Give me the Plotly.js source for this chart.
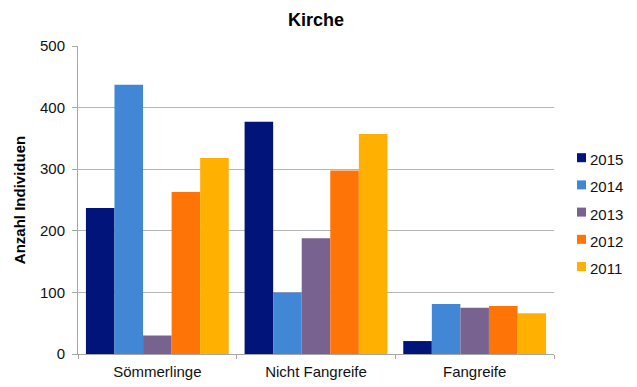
<!DOCTYPE html>
<html>
<head>
<meta charset="utf-8">
<script src="https://cdn.plot.ly/plotly-3.0.1.min.js"></script>
<style>
  html, body { margin: 0; padding: 0; background: #fff; }
  #chart { width: 637px; height: 387px; }
</style>
</head>
<body>
<div id="chart"></div>
<script>
// Kirche: Anzahl Individuen je Kategorie und Jahr
const categories = ['Sömmerlinge', 'Nicht Fangreife', 'Fangreife'];
const years = ['2015', '2014', '2013', '2012', '2011'];
const s2015 = [237, 377, 21];
const s2014 = [437, 100, 81];
const s2013 = [30, 188, 75];
const s2012 = [263, 298, 78];
const s2011 = [318, 357, 66];
const seriesValues = [s2015, s2014, s2013, s2012, s2011];
const colors = ['#001479', '#4286d6', '#786290', '#ff7406', '#ffb000'];

const W = 637, H = 387;
const M = { l: 78, r: 83, t: 46, b: 33 };
const plotW = W - M.l - M.r, plotH = H - M.t - M.b;
const px = x => (x - M.l) / plotW;        // page pixel -> paper x
const py = y => (H - M.b - y) / plotH;    // page pixel -> paper y

const FONT = 'Liberation Sans, Arial, Helvetica, sans-serif';

const traces = years.map((yr, i) => ({
  type: 'bar',
  name: yr,
  x: categories,
  y: seriesValues[i],
  marker: { color: colors[i], line: { width: 0 } },
  hoverinfo: 'x+y+name'
}));

// Legend drawn as small squares with labels on the right side
const shapes = [];
const annotations = [];
years.forEach((yr, i) => {
  const cy = 157.7 + i * 27.2;
  shapes.push({
    type: 'rect', xref: 'paper', yref: 'paper',
    x0: px(577), x1: px(586), y0: py(cy + 4.5), y1: py(cy - 4.5),
    fillcolor: colors[i], line: { width: 0 }
  });
  annotations.push({
    xref: 'paper', yref: 'paper', x: px(588), y: py(cy + 2),
    xanchor: 'left', yanchor: 'middle', showarrow: false,
    text: yr, font: { family: FONT, size: 15, color: '#111' }
  });
});

const layout = {
  width: W, height: H,
  margin: M,
  paper_bgcolor: '#fff', plot_bgcolor: '#fff',
  showlegend: false,
  barmode: 'group', bargap: 0.1, bargroupgap: 0,
  title: {
    text: '<b>Kirche</b>', x: 0.5, xref: 'paper', xanchor: 'center',
    y: 1 - 20 / H, yref: 'container', yanchor: 'middle',
    font: { family: FONT, size: 18, color: '#000' }
  },
  xaxis: {
    type: 'category',
    showgrid: false, showline: true, linecolor: '#a6a6a6', linewidth: 1,
    ticks: 'outside', tickson: 'boundaries', ticklen: 4, tickcolor: '#a6a6a6',
    ticklabelstandoff: 4,
    tickfont: { family: FONT, size: 15, color: '#111' },
    fixedrange: true
  },
  yaxis: {
    range: [0, 500], dtick: 100, tick0: 0,
    showgrid: true, gridcolor: '#b5b5b5', gridwidth: 1,
    showline: true, linecolor: '#a6a6a6', linewidth: 1,
    ticks: 'outside', ticklen: 5, tickcolor: '#a6a6a6',
    ticklabelstandoff: 4,
    tickfont: { family: FONT, size: 15, color: '#111' },
    zeroline: false,
    title: {
      text: '<b>Anzahl Individuen</b>', standoff: 10,
      font: { family: FONT, size: 15, color: '#000' }
    },
    fixedrange: true
  },
  shapes: shapes,
  annotations: annotations
};

Plotly.newPlot('chart', traces, layout, { displayModeBar: false, staticPlot: true });
</script>
</body>
</html>
